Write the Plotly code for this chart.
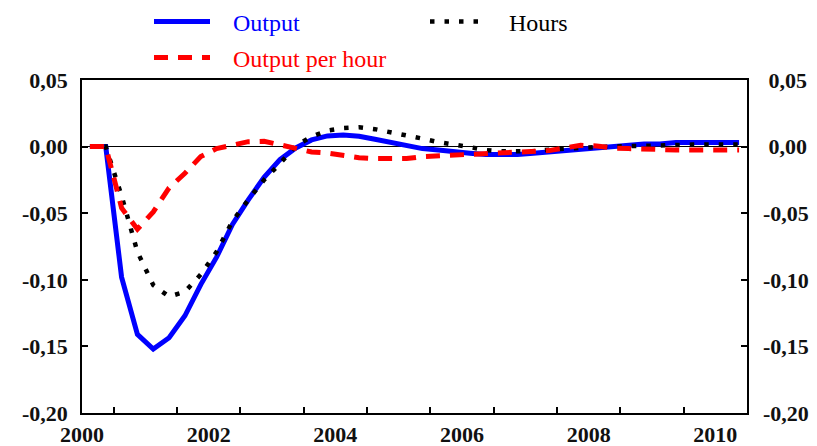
import plotly.graph_objects as go

# Quarterly index (t = 0 .. 41), year labels every 8 quarters
quarters = list(range(42))

output = [0, 0, -0.098, -0.141, -0.152, -0.1435, -0.127, -0.1036, -0.083, -0.0585,
          -0.040, -0.023, -0.0098, -0.001, 0.005, 0.008, 0.0087, 0.0078, 0.0055, 0.003,
          0.0005, -0.0015, -0.0025, -0.004, -0.005, -0.006, -0.006, -0.006, -0.005, -0.004,
          -0.003, -0.002, -0.001, 0.0, 0.001, 0.002, 0.002, 0.003, 0.003, 0.003,
          0.003, 0.003]

hours = [0, 0, -0.037, -0.079, -0.104, -0.1126, -0.109, -0.096, -0.079, -0.056,
         -0.040, -0.025, -0.0128, 0.0007, 0.0075, 0.012, 0.0139, 0.0146, 0.0131, 0.0109,
         0.0083, 0.006, 0.0034, 0.0019, -0.0004, -0.0026, -0.0035, -0.0035, -0.0034, -0.0023,
         -0.0015, -0.0008, -0.0004, 0.0, 0.0004, 0.0008, 0.001, 0.0012, 0.0015, 0.0015,
         0.0015, 0.0015]

output_per_hour = [0, 0, -0.046, -0.062, -0.049, -0.031, -0.020, -0.0075, -0.0015, 0.0007,
                   0.0037, 0.004, 0.0015, -0.001, -0.004, -0.0048, -0.0068, -0.0083, -0.009, -0.009,
                   -0.009, -0.0075, -0.007, -0.0065, -0.006, -0.0055, -0.005, -0.004, -0.0035, -0.003,
                   -0.001, 0.001, 0.0005, -0.001, -0.0015, -0.002, -0.002, -0.0025, -0.0025, -0.0025,
                   -0.0025, -0.0025]

year_label_pos = [-0.5, 7.5, 15.5, 23.5, 31.5, 39.5]
year_labels = ["2000", "2002", "2004", "2006", "2008", "2010"]
year_tick_pos = [1.5 + 4 * k for k in range(10)]

y_ticks = [0.05, 0.0, -0.05, -0.10, -0.15, -0.20]
y_labels_left = ["0,05", "0,00", "-0,05", "-0,10", "-0,15", "-0,20"]
y_labels_right = ["\u00a00,05", "\u00a00,00", "-0,05", "-0,10", "-0,15", "-0,20"]

SERIF = "Liberation Serif, Times New Roman, serif"
GAP = "\u00a0\u00a0\u00a0"

fig = go.Figure()
fig.add_trace(go.Scatter(x=quarters, y=output, mode="lines", name=GAP + "Output",
                         line=dict(color="#0000FF", width=5), legend="legend"))
fig.add_trace(go.Scatter(x=quarters, y=hours, mode="lines", name=GAP + "Hours",
                         line=dict(color="#000000", width=4.5, dash="4.5px,10px"), legend="legend3"))
fig.add_trace(go.Scatter(x=quarters, y=output_per_hour, mode="lines", name=GAP + "Output per hour",
                         line=dict(color="#FF0000", width=5, dash="14px,10px"), legend="legend2"))
# invisible trace to carry the tick-only x axis and right y axis
fig.add_trace(go.Scatter(x=[quarters[0]], y=[output[0]], xaxis="x2", yaxis="y2",
                         mode="markers", marker=dict(opacity=0), showlegend=False, hoverinfo="skip"))

tickfont = dict(family=SERIF, size=22, color="#111111", weight="bold")
legend_common = dict(xref="paper", yref="paper", xanchor="left", yanchor="middle",
                     itemwidth=56, bgcolor="rgba(0,0,0,0)")

plot_w = 817 - 82 - 70
plot_h = 446 - 80 - 33

def px_x(px):
    return (px - 82) / plot_w

def px_y(py):
    return (413 - py) / plot_h

fig.update_layout(
    width=817, height=446,
    margin=dict(l=82, r=70, t=80, b=33, autoexpand=False),
    paper_bgcolor="white", plot_bgcolor="white",
    xaxis=dict(range=[-0.5, 41.5], tickmode="array", tickvals=year_label_pos, ticktext=year_labels,
               ticks="", showgrid=False, zeroline=False, showline=True, linecolor="black",
               linewidth=1.5, mirror=True, tickfont=tickfont, ticklabelstandoff=1),
    xaxis2=dict(range=[-0.5, 41.5], overlaying="x", anchor="y", side="bottom", tickmode="array",
                tickvals=year_tick_pos, ticks="inside", ticklen=6, tickwidth=1.5, tickcolor="black",
                showticklabels=False, showgrid=False, zeroline=False, showline=False),
    yaxis=dict(range=[-0.20, 0.05], tickmode="array", tickvals=y_ticks, ticktext=y_labels_left,
               ticks="inside", ticklen=6, tickwidth=1.5, tickcolor="black", showgrid=False,
               zeroline=True, zerolinecolor="black", zerolinewidth=1.2,
               showline=True, linecolor="black", linewidth=1.5, mirror=True,
               tickfont=tickfont, ticklabelstandoff=8),
    yaxis2=dict(range=[-0.20, 0.05], overlaying="y", anchor="x", side="right", tickmode="array",
                tickvals=y_ticks, ticktext=y_labels_right, ticks="inside", ticklen=6, tickwidth=1.5,
                tickcolor="black", showgrid=False, zeroline=False, showline=False,
                tickfont=tickfont, ticklabelstandoff=15),
    legend=dict(x=px_x(149), y=px_y(22), font=dict(family=SERIF, size=24, color="#0000FF"),
                **legend_common),
    legend2=dict(x=px_x(149), y=px_y(58), font=dict(family=SERIF, size=24, color="#FF0000"),
                 **legend_common),
    legend3=dict(x=px_x(425), y=px_y(22), font=dict(family=SERIF, size=24, color="#000000"),
                 **legend_common),
)

fig.write_html("out.html", config={"displayModeBar": False},
               post_script="document.body.style.margin='0';")
